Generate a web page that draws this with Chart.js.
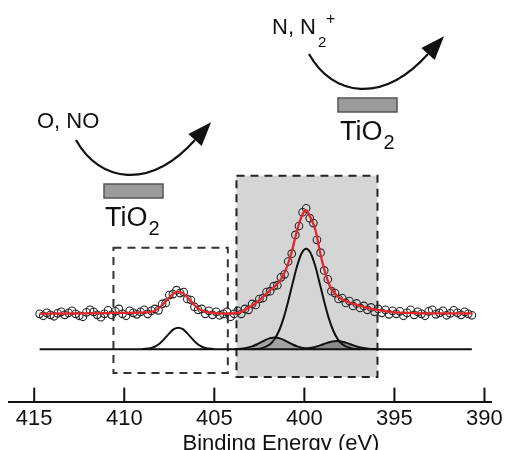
<!DOCTYPE html>
<html>
<head>
<meta charset="utf-8">
<script src="https://cdn.jsdelivr.net/npm/chart.js@4.4.0/dist/chart.umd.min.js"></script>
<style>
  html, body { margin: 0; padding: 0; background: #fff; }
  canvas { display: block; }
</style>
</head>
<body>
<canvas id="c" width="507" height="450"></canvas>
<script>
// measured N 1s points (binding energy, intensity above the component baseline)
const scanEnergy = [
  414.7, 414.5, 414.3, 414.1, 413.9, 413.7, 413.5, 413.3, 413.1, 412.9,
  412.7, 412.5, 412.3, 412.1, 411.9, 411.7, 411.5, 411.3, 411.1, 410.9,
  410.7, 410.5, 410.3, 410.1, 409.9, 409.7, 409.5, 409.3, 409.1, 408.9,
  408.7, 408.5, 408.3, 408.1, 407.9, 407.7, 407.5, 407.3, 407.1, 406.9,
  406.7, 406.5, 406.3, 406.1, 405.9, 405.7, 405.5, 405.3, 405.1, 404.9,
  404.7, 404.5, 404.3, 404.1, 403.9, 403.7, 403.5, 403.3, 403.1, 402.9,
  402.7, 402.5, 402.3, 402.1, 401.9, 401.7, 401.5, 401.3, 401.1, 400.9,
  400.7, 400.5, 400.3, 400.1, 399.9, 399.7, 399.5, 399.3, 399.1, 398.9,
  398.7, 398.5, 398.3, 398.1, 397.9, 397.7, 397.5, 397.3, 397.1, 396.9,
  396.7, 396.5, 396.3, 396.1, 395.9, 395.7, 395.5, 395.3, 395.1, 394.9,
  394.7, 394.5, 394.3, 394.1, 393.9, 393.7, 393.5, 393.3, 393.1, 392.9,
  392.7, 392.5, 392.3, 392.1, 391.9, 391.7, 391.5, 391.3, 391.1, 390.9,
  390.7
];
const scanCounts = [
  36, 34, 37, 35, 33.5, 36.5, 38, 35, 37, 39,
  36, 34, 33, 37.5, 40, 38, 35, 32.5, 36, 39.5,
  35, 38.5, 41, 36, 34, 39, 37, 35.5, 38, 40,
  36, 39, 41, 39.5, 46, 47, 55, 56, 60, 57,
  58, 51, 50, 43, 40, 41, 36, 39, 35, 38,
  34.5, 36, 38, 33, 36, 39, 36, 41, 40, 46,
  45, 51, 52, 58, 59, 64, 65, 73, 76, 89,
  97, 116, 125, 139, 143, 133, 128, 111, 98, 80,
  71, 59, 57, 51, 52, 47, 49, 44, 46.5, 42,
  44, 40, 42.5, 38, 41, 37, 40, 35.5, 39, 36,
  38.5, 34, 37, 40, 35, 38, 36, 34, 38.5, 40,
  35.5, 37, 39, 34.5, 36.5, 39.5, 37, 35, 38, 36,
  34.5
];

// envelope fit (red)
const fitEnergy = [414.7, 413, 411, 409.5, 408.5, 408.1, 407.7, 407.3, 407.0, 406.7, 406.3, 405.9, 405.5, 405.0, 404.5, 404.0, 403.6, 403.2, 402.8, 402.4, 402.0, 401.6, 401.3, 401.0, 400.7, 400.4, 400.1, 399.9, 399.7, 399.4, 399.1, 398.8, 398.5, 398.1, 397.6, 397.0, 396.4, 395.8, 395.0, 394.0, 392.5, 390.7];
const fitCounts = [36, 36.3, 36.8, 37, 37.9, 41.5, 48.6, 56.2, 58.5, 56.2, 48.6, 41.5, 37.9, 36.8, 36.3, 36.3, 37.2, 41, 45.5, 51.5, 58.5, 64.5, 71, 82, 99, 121, 137, 141, 135, 122, 96, 75, 61, 53, 48, 44.5, 41.5, 39.5, 37.5, 36.8, 36.5, 36.5];

// fitted components
const peak407Energy = [409.0, 408.5, 408.25, 408.0, 407.75, 407.5, 407.25, 407.0, 406.75, 406.5, 406.25, 406.0, 405.75, 405.5, 405.0];
const peak407Counts = [0.2, 1.4, 3.3, 6.5, 11.1, 16.2, 20.4, 22, 20.4, 16.2, 11.1, 6.5, 3.3, 1.4, 0.2];

const peak400Energy = [402.9, 402.4, 401.9, 401.65, 401.4, 401.15, 400.9, 400.65, 400.4, 400.15, 399.9, 399.65, 399.4, 399.15, 398.9, 398.65, 398.4, 398.15, 397.9, 397.4, 396.9];
const peak400Counts = [0.1, 1.0, 5.2, 10.5, 19.1, 31.9, 48.5, 67.1, 84.7, 97.4, 102, 97.4, 84.7, 67.1, 48.5, 31.9, 19.1, 10.5, 5.2, 1.0, 0.1];

const peak402Energy = [403.9, 403.4, 402.9, 402.65, 402.4, 402.15, 401.9, 401.65, 401.4, 401.15, 400.9, 400.65, 400.4, 399.9, 399.4];
const peak402Counts = [0.13, 0.79, 3.0, 4.9, 7.3, 9.6, 11.35, 12, 11.35, 9.6, 7.3, 4.9, 3.0, 0.79, 0.13];

const peak398Energy = [400.45, 399.95, 399.45, 399.2, 398.95, 398.7, 398.45, 398.2, 397.95, 397.7, 397.45, 397.2, 396.95, 396.45, 395.95];
const peak398Counts = [0.09, 0.56, 2.1, 3.5, 5.2, 6.8, 8.04, 8.5, 8.04, 6.8, 5.2, 3.5, 2.1, 0.56, 0.09];

const baseEnergy = [414.7, 390.7];
const baseCounts = [0, 0];

const tickValues = [415, 410, 405, 400, 395, 390];
const xTitle = 'Binding Energy (eV)';

const FONT = '"Liberation Sans", Arial, Helvetica, sans-serif';
const pts = (xs, ys) => xs.map((x, i) => ({ x, y: ys[i] }));

function arrow(ctx, ox, oy) {
  // curved arrow: start at (ox, oy), dips down, ends with a filled head
  const ex = ox + 119, ey = oy;
  const c2x = ox + 74, c2y = oy + 50;
  ctx.beginPath();
  ctx.moveTo(ox, oy);
  ctx.bezierCurveTo(ox + 24, oy + 43, c2x, c2y, ex, ey);
  ctx.lineWidth = 2.2;
  ctx.strokeStyle = '#111';
  ctx.stroke();
  let dx = ex - c2x, dy = ey - c2y;
  const l = Math.hypot(dx, dy); dx /= l; dy /= l;
  const len = 24, hw = 9;
  ctx.beginPath();
  ctx.moveTo(ex + dx * len, ey + dy * len);
  ctx.lineTo(ex - dy * hw, ey + dx * hw);
  ctx.lineTo(ex + dy * hw, ey - dx * hw);
  ctx.closePath();
  ctx.fillStyle = '#111';
  ctx.fill();
}

function tio2(ctx, x, y) {
  ctx.font = '27px ' + FONT;
  ctx.fillText('TiO', x, y);
  const w = ctx.measureText('TiO').width;
  ctx.font = '20px ' + FONT;
  ctx.fillText('2', x + w + 1, y + 9);
}

const deco = {
  id: 'deco',
  beforeDatasetsDraw(chart) {
    const { ctx, scales: { x, y } } = chart;
    ctx.save();
    ctx.setLineDash([8, 6]);
    ctx.lineWidth = 2;
    ctx.strokeStyle = '#333';
    // O / NO region
    let l = x.getPixelForValue(410.6), r = x.getPixelForValue(404.25);
    let t = y.getPixelForValue(103), b = y.getPixelForValue(-24);
    ctx.strokeRect(l, t, r - l, b - t);
    // N 1s main region (shaded)
    l = x.getPixelForValue(403.77); r = x.getPixelForValue(395.94);
    t = y.getPixelForValue(176); b = y.getPixelForValue(-28);
    ctx.fillStyle = '#d5d5d5';
    ctx.fillRect(l, t, r - l, b - t);
    ctx.strokeStyle = '#222';
    ctx.strokeRect(l, t, r - l, b - t);
    ctx.restore();
  },
  afterDraw(chart) {
    const { ctx, chartArea, scales: { x } } = chart;
    ctx.save();
    // inward tick marks
    ctx.strokeStyle = '#111';
    ctx.lineWidth = 2;
    tickValues.forEach(v => {
      const px = x.getPixelForValue(v);
      ctx.beginPath();
      ctx.moveTo(px, chartArea.bottom);
      ctx.lineTo(px, chartArea.bottom - 14);
      ctx.stroke();
    });
    // axis title
    ctx.fillStyle = '#111';
    ctx.font = '22px ' + FONT;
    ctx.textAlign = 'center';
    ctx.textBaseline = 'alphabetic';
    ctx.fillText(xTitle, 281, 450);
    ctx.textAlign = 'left';

    // schematic
    arrow(ctx, 76, 140);
    arrow(ctx, 309, 54);
    ctx.fillStyle = '#9b9b9b';
    ctx.strokeStyle = '#555';
    ctx.lineWidth = 1.5;
    ctx.fillRect(104, 184, 59, 14); ctx.strokeRect(104, 184, 59, 14);
    ctx.fillRect(338, 98, 59, 14); ctx.strokeRect(338, 98, 59, 14);

    ctx.fillStyle = '#111';
    tio2(ctx, 105, 226);
    tio2(ctx, 340, 140);
    ctx.font = '22px ' + FONT;
    ctx.fillText('O, NO', 37, 128);
    ctx.fillText('N, N', 272, 34);
    const w = ctx.measureText('N, N').width;
    ctx.font = '15px ' + FONT;
    ctx.fillText('2', 272 + w + 2, 47);
    ctx.font = '16px ' + FONT;
    ctx.fillText('+', 272 + w + 10, 24);
    ctx.restore();
  }
};

const line = (xs, ys, color, order, extra) => Object.assign({
  data: pts(xs, ys),
  borderColor: color,
  borderWidth: 2,
  pointRadius: 0,
  cubicInterpolationMode: 'monotone',
  fill: false,
  order
}, extra || {});

new Chart(document.getElementById('c'), {
  type: 'line',
  data: {
    datasets: [
      line(fitEnergy, fitCounts, '#e3262b', 0, { borderWidth: 2.3 }),
      {
        data: pts(scanEnergy, scanCounts),
        showLine: false,
        pointRadius: 3.8,
        pointBorderWidth: 1.1,
        pointBorderColor: '#262626',
        pointBackgroundColor: 'rgba(0,0,0,0)',
        order: 1
      },
      line(peak400Energy, peak400Counts, '#111', 2),
      line(peak407Energy, peak407Counts, '#111', 2),
      line(baseEnergy, baseCounts, '#111', 2),
      line(peak402Energy, peak402Counts, '#111', 3, { fill: 'origin', backgroundColor: '#a2a2a2' }),
      line(peak398Energy, peak398Counts, '#111', 3, { fill: 'origin', backgroundColor: '#8c8c8c' })
    ]
  },
  options: {
    responsive: false,
    animation: false,
    layout: { padding: { top: 0, left: 9, right: 12, bottom: 14 } },
    plugins: { legend: { display: false }, tooltip: { enabled: false } },
    scales: {
      x: {
        type: 'linear',
        reverse: true,
        min: 389.6, max: 416.4,
        afterBuildTicks: s => { s.ticks = tickValues.map(v => ({ value: v })); },
        grid: { display: true, drawOnChartArea: false, drawTicks: false },
        border: { display: true, color: '#111', width: 2 },
        ticks: { color: '#111', padding: 4, maxRotation: 0, font: { family: FONT, size: 22 } }
      },
      y: { display: false, min: -53, max: 349 }
    }
  },
  plugins: [deco]
});
</script>
</body>
</html>
